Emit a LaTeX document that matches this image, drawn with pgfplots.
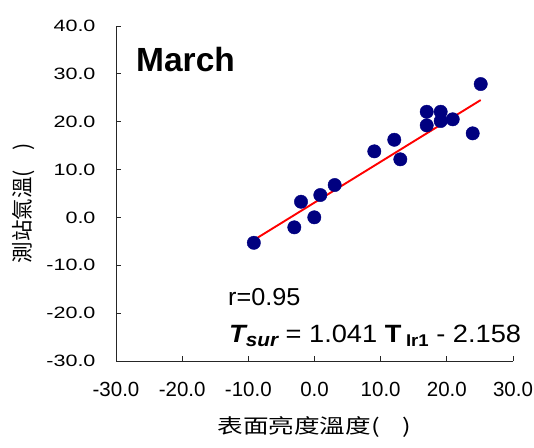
\documentclass[border=0pt]{standalone}
\usepackage{pgfplots}
\pgfplotsset{compat=1.18}
\usepackage{fontspec}
\setmainfont{Liberation Sans}
\newfontfamily\cjk{Noto Sans CJK TC}
\definecolor{navy}{RGB}{0,0,128}
\begin{document}
\begin{tikzpicture}
\useasboundingbox (0,0) rectangle (534pt,447pt);
\begin{axis}[
  at={(116pt,86pt)}, anchor=south west,
  scale only axis, width=397pt, height=335pt,
  xmin=-30, xmax=30, ymin=-30, ymax=40,
  xtick={-30,-20,...,30}, ytick={-30,-20,...,40},
  axis lines=left, axis line style={-, draw=black!85, line width=0.8pt},
  tick align=inside, major tick length=5pt,
  tick style={draw=black!85, line width=0.8pt},
  /pgf/number format/.cd, fixed, fixed zerofill, precision=1, assume math mode=true,
  /pgfplots/.cd,
  xticklabel style={font=\fontsize{20.5}{24}\selectfont, yshift=-18pt},
  yticklabel style={font=\fontsize{20.5}{24}\selectfont, xshift=-17pt},
  yticklabel={\scalebox{1.05}[0.8]{\pgfmathprintnumber{\tick}}},
  xlabel={\scalebox{1.28}[1]{\cjk\fontsize{20}{24}\selectfont 表面亮度溫度(\hspace{0.9em})}},
  xlabel style={at={(axis description cs:0.5,-0.196)}, anchor=center},
  ylabel={\cjk\fontsize{21.5}{24}\selectfont 測站氣溫(\hspace{0.9em})},
  ylabel style={at={(axis description cs:-0.234,0.47)}, anchor=center, rotate=0},
  clip=false,
]
\addplot[only marks, mark=*, mark size=6.7pt, mark options={fill=navy, draw=navy}] coordinates {
(-9.17,-5.3) (-3.05,-2.07) (-2.04,3.28) (-0.03,0.02) (0.88,4.68) (3.05,6.77)
(9.04,13.81) (12.06,16.23) (12.97,12.14) (16.96,22.08) (19.07,22.08)
(16.96,19.24) (19.07,20.14) (20.89,20.5) (23.91,17.57) (25.12,27.87)
};
\addplot[red, line width=1.9pt] coordinates {(-9.17,-4.72) (25.12,24.53)};
\end{axis}
\node[anchor=base west, inner sep=0pt, font=\bfseries\fontsize{33.5}{36}\selectfont] at (136pt,375pt) {March};
\node[anchor=base west, inner sep=0pt, font=\fontsize{24.5}{28}\selectfont] at (228pt,142pt) {\scalebox{1.03}[1]{r=0.95}};
\node[anchor=base west, inner sep=0pt, font=\fontsize{25}{28}\selectfont] at (229pt,105pt)
  {\scalebox{1.09}[1]{{\bfseries\itshape T}\raisebox{-4pt}{\bfseries\itshape\fontsize{19}{22}\selectfont sur} = 1.041 {\bfseries T}\,\raisebox{-4pt}{\bfseries\fontsize{17}{20}\selectfont Ir1} - 2.158}};
\end{tikzpicture}
\end{document}
